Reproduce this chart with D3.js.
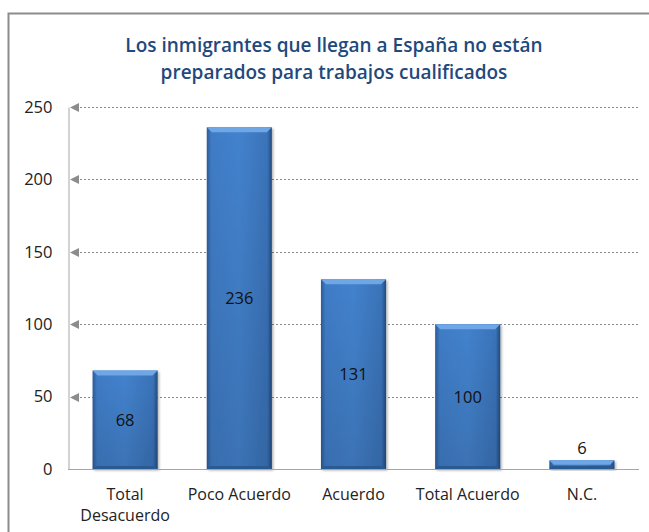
<!DOCTYPE html>
<html>
<head>
<meta charset="utf-8">
<script src="https://cdn.jsdelivr.net/npm/d3@7"></script>
<style>
  body { margin: 0; background: #fff; }
  svg { display: block; font-family: "Open Sans", "Noto Sans", sans-serif; }
</style>
</head>
<body>
<div id="chart"></div>
<script>
// chart data
const categories = ["Total Desacuerdo", "Poco Acuerdo", "Acuerdo", "Total Acuerdo", "N.C."];
const values = [68, 236, 131, 100, 6];
const yTicks = [0, 50, 100, 150, 200, 250];
const titleLines = ["Los inmigrantes que llegan a España no están", "preparados para trabajos cualificados"];

const W = 649, H = 532;
const margin = { top: 107, right: 10, bottom: 63, left: 68 };

const svg = d3.select("#chart").append("svg")
  .attr("width", W)
  .attr("height", H);

// gradients for the bevelled bars
const defs = svg.append("defs");
const body = defs.append("linearGradient").attr("id", "barBody")
  .attr("x1", 0).attr("x2", 1).attr("y1", 0).attr("y2", 0);
body.append("stop").attr("offset", "0%").attr("stop-color", "#2d5b98");
body.append("stop").attr("offset", "7%").attr("stop-color", "#3f7cc6");
body.append("stop").attr("offset", "50%").attr("stop-color", "#4382cd");
body.append("stop").attr("offset", "93%").attr("stop-color", "#3a73b9");
body.append("stop").attr("offset", "100%").attr("stop-color", "#234b80");

const shade = defs.append("linearGradient").attr("id", "barShade")
  .attr("x1", 0).attr("x2", 0).attr("y1", 0).attr("y2", 1);
shade.append("stop").attr("offset", "0%").attr("stop-color", "#000").attr("stop-opacity", 0);
shade.append("stop").attr("offset", "100%").attr("stop-color", "#000").attr("stop-opacity", 0.12);

const shadow = defs.append("filter").attr("id", "shadow")
  .attr("x", "-20%").attr("y", "-20%").attr("width", "140%").attr("height", "140%");
shadow.append("feDropShadow").attr("dx", 1.5).attr("dy", 1.5)
  .attr("stdDeviation", 1.2).attr("flood-color", "#000").attr("flood-opacity", 0.3);

// outer frame (only top and left visible)
svg.append("path")
  .attr("d", `M8.5,${H} V13.5 H${W + 2}`)
  .attr("fill", "none")
  .attr("stroke", "#8c8c8c")
  .attr("stroke-width", 2);

// title
svg.append("text")
  .attr("x", 334)
  .attr("y", 52)
  .attr("text-anchor", "middle")
  .attr("fill", "#1f497d")
  .style("font-size", "19px")
  .style("font-weight", "600")
  .selectAll("tspan")
  .data(titleLines)
  .join("tspan")
  .attr("x", 334)
  .attr("dy", (d, i) => i === 0 ? 0 : 27)
  .text(d => d);

const x = d3.scaleBand()
  .domain(categories)
  .range([margin.left, W - margin.right])
  .paddingInner(0.43)
  .paddingOuter(0.215);

const y = d3.scaleLinear()
  .domain([0, 250])
  .range([H - margin.bottom, margin.top]);

// dotted gridlines
svg.append("g")
  .selectAll("line")
  .data(yTicks.filter(d => d > 0))
  .join("line")
  .attr("x1", margin.left + 12)
  .attr("x2", W - margin.right)
  .attr("y1", d => Math.round(y(d)) + 0.5)
  .attr("y2", d => Math.round(y(d)) + 0.5)
  .attr("stroke", "#8a8a8a")
  .attr("stroke-width", 1)
  .attr("stroke-dasharray", "2,2");

// tick arrows
svg.append("g")
  .selectAll("path")
  .data(yTicks.filter(d => d > 0))
  .join("path")
  .attr("d", d => {
    const yy = Math.round(y(d)) + 0.5;
    return `M${margin.left + 2},${yy} L${margin.left + 11},${yy - 4.5} L${margin.left + 11},${yy + 4.5} Z`;
  })
  .attr("fill", "#8c8c8c");

// y axis
const yAxis = svg.append("g")
  .attr("transform", `translate(${margin.left + 0.5},0)`)
  .call(d3.axisLeft(y).tickValues(yTicks).tickSize(0).tickPadding(16));
yAxis.select(".domain").attr("stroke", "#a6a6a6");
yAxis.selectAll("text")
  .style("font-size", "16.5px")
  .style("font-family", "'Open Sans', 'Noto Sans', sans-serif")
  .attr("fill", "#222");

// bars
const barData = values.map((v, i) => ({ cat: categories[i], v }));
const bars = svg.append("g")
  .selectAll("g")
  .data(barData)
  .join("g")
  .attr("filter", "url(#shadow)");

bars.append("rect")
  .attr("x", d => x(d.cat))
  .attr("y", d => y(d.v))
  .attr("width", x.bandwidth())
  .attr("height", d => y(0) - y(d.v))
  .attr("fill", "url(#barBody)");

bars.append("rect")
  .attr("x", d => x(d.cat))
  .attr("y", d => y(d.v))
  .attr("width", x.bandwidth())
  .attr("height", d => y(0) - y(d.v))
  .attr("fill", "url(#barShade)");

// top bevel highlight
bars.append("path")
  .attr("d", d => {
    const x0 = x(d.cat), x1 = x0 + x.bandwidth(), t = y(d.v);
    const b = Math.min(5, (y(0) - t) / 2);
    return `M${x0},${t} L${x1},${t} L${x1 - b},${t + b} L${x0 + b},${t + b} Z`;
  })
  .attr("fill", "#6ea6e6");

// bottom bevel
bars.append("path")
  .attr("d", d => {
    const x0 = x(d.cat), x1 = x0 + x.bandwidth(), bt = y(0), t = y(d.v);
    const b = Math.min(3, (bt - t) / 2);
    return `M${x0},${bt} L${x1},${bt} L${x1 - b},${bt - b} L${x0 + b},${bt - b} Z`;
  })
  .attr("fill", "#2c5a94");

// x baseline
svg.append("line")
  .attr("x1", margin.left)
  .attr("x2", W - margin.right)
  .attr("y1", Math.round(y(0)) + 0.5)
  .attr("y2", Math.round(y(0)) + 0.5)
  .attr("stroke", "#a6a6a6");

// value labels
svg.append("g")
  .selectAll("text")
  .data(barData)
  .join("text")
  .attr("x", d => x(d.cat) + x.bandwidth() / 2)
  .attr("y", d => d.v < 20 ? y(d.v) - 6 : (y(d.v) + y(0)) / 2 + 6)
  .attr("text-anchor", "middle")
  .attr("fill", "#111")
  .style("font-size", "16.5px")
  .text(d => d.v);

// category labels (wrapped)
const catLines = {
  "Total Desacuerdo": ["Total", "Desacuerdo"]
};
svg.append("g")
  .selectAll("text")
  .data(categories)
  .join("text")
  .attr("x", d => x(d) + x.bandwidth() / 2)
  .attr("y", y(0) + 31)
  .attr("text-anchor", "middle")
  .attr("fill", "#222")
  .style("font-size", "16px")
  .each(function (d) {
    const lines = catLines[d] || [d];
    d3.select(this).selectAll("tspan")
      .data(lines)
      .join("tspan")
      .attr("x", x(d) + x.bandwidth() / 2)
      .attr("dy", (l, i) => i === 0 ? 0 : 21)
      .text(l => l);
  });
</script>
</body>
</html>
